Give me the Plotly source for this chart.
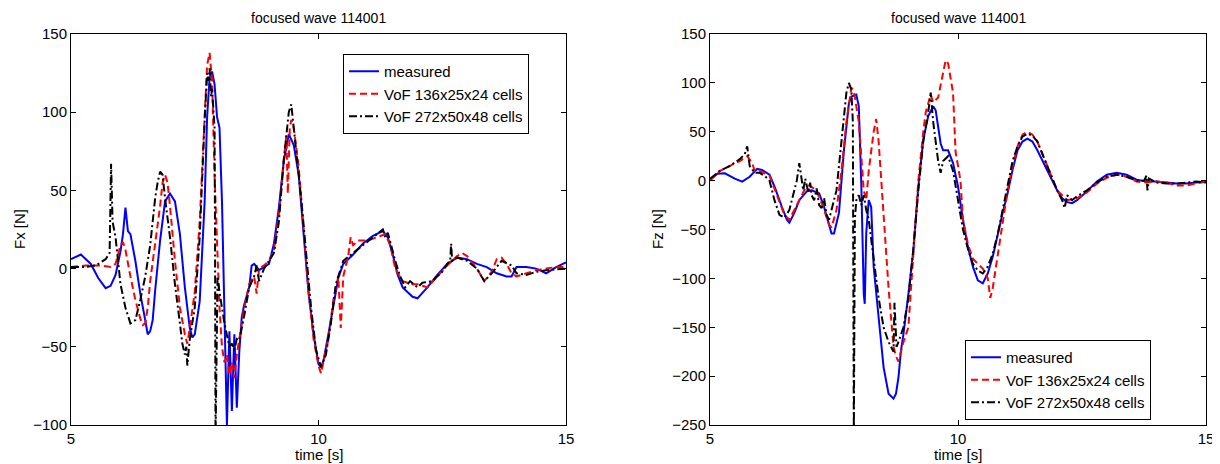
import plotly.graph_objects as go

# ---------------- Left panel: Fx ----------------
fx_meas_t = [5.0, 5.2, 5.4, 5.55, 5.7, 5.8, 5.9, 6.0, 6.05, 6.1, 6.15, 6.2, 6.3, 6.4, 6.5, 6.55, 6.6, 6.65,
             6.7, 6.8, 6.9, 7.0, 7.1, 7.2, 7.3, 7.4, 7.45, 7.5, 7.6, 7.7, 7.75, 7.8, 7.85, 7.9, 7.95, 8.0,
             8.05, 8.1, 8.15, 8.2, 8.25, 8.3, 8.35, 8.4, 8.45, 8.5, 8.6, 8.65, 8.7, 8.8, 8.9, 9.0, 9.1, 9.2,
             9.3, 9.4, 9.5, 9.6, 9.7, 9.8, 9.9, 10.0, 10.05, 10.1, 10.2, 10.3, 10.4, 10.5, 10.7, 10.9, 11.1,
             11.3, 11.4, 11.5, 11.6, 11.7, 11.8, 11.9, 12.0, 12.2, 12.4, 12.6, 12.8, 13.0, 13.2, 13.4, 13.6,
             13.8, 13.9, 14.0, 14.2, 14.4, 14.6, 14.8, 15.0]
fx_meas_y = [6, 9, 3, -6, -12.5, -11, -4, 11, 22, 39, 24, 22, 5, -16, -33, -42, -40, -33,
             -14, 18, 43, 48, 43, 22, -12, -38, -44, -42, -21, 43, 97, 122, 126, 118, 97, 90,
             43, -31, -100, -40, -91, -42, -89, -53, -31, -23, -12, 2, 3, -1, 1, 3, 16, 39,
             69, 86, 79, 60, 22, -16, -42, -61, -63, -59, -42, -25, -6, 3, 9, 16, 21,
             24, 20, 9, -4, -12, -15, -18, -19, -12, -4, 3, 7, 6, 3, 1, -3,
             -5, -5, 1, 1, 0, -3, 1, 4]

fx_voc_t = [5.0, 5.3, 5.6, 5.8, 5.9, 6.0, 6.05, 6.1, 6.2, 6.3, 6.4, 6.45, 6.5, 6.55, 6.6, 6.7, 6.8, 6.85,
            6.9, 6.95, 7.0, 7.1, 7.2, 7.3, 7.35, 7.4, 7.5, 7.6, 7.7, 7.75, 7.8, 7.85, 7.9, 7.95, 8.0, 8.05,
            8.1, 8.15, 8.2, 8.25, 8.3, 8.35, 8.4, 8.5, 8.6, 8.7, 8.75, 8.8, 8.9, 9.0, 9.1, 9.2, 9.3, 9.35,
            9.38, 9.42, 9.45, 9.5, 9.6, 9.7, 9.8, 9.9, 10.0, 10.05, 10.1, 10.2, 10.3, 10.4, 10.45, 10.5, 10.6,
            10.65, 10.7, 10.8, 11.0, 11.2, 11.35, 11.45, 11.55, 11.7, 11.9, 12.0, 12.2, 12.4, 12.6, 12.8,
            12.9, 13.0, 13.2, 13.35, 13.5, 13.6, 13.7, 13.8, 13.9, 14.0, 14.2, 14.4, 14.6, 14.8, 15.0]
fx_voc_y = [1, 2, 2, 1, 3, 15, 17, 12, -5, -20, -32, -36, -35, -25, -8, 15, 40, 55,
            60, 55, 40, 5, -25, -42, -48, -38, -15, 30, 95, 130, 138, 120, 60, 10, -25, -50,
            -60, -55, -68, -60, -70, -55, -45, -25, -10, -5, -16, 0, 2, 5, 12, 35, 70, 85,
            48, 90, 95, 90, 65, 25, -15, -45, -62, -67, -60, -45, -20, -5, -38, -5, 8,
            20, 15, 18, 18, 20, 22, 15, 0, -8, -10, -10, -12, -5, 2, 8,
            10, 8, 0, -8, -2, 6, 7, 3, -3, -5, -3, -1, 0, 1, 1]

fx_vof_t = [5.0, 5.3, 5.5, 5.7, 5.78, 5.81, 5.84, 5.9, 6.0, 6.1, 6.2, 6.3, 6.4, 6.5, 6.6, 6.7, 6.75, 6.8,
            6.85, 6.9, 7.0, 7.1, 7.2, 7.25, 7.3, 7.33, 7.35, 7.4, 7.5, 7.6, 7.7, 7.75, 7.78, 7.8, 7.83,
            7.85, 7.88, 7.9, 7.91, 7.92, 7.96, 8.0, 8.1, 8.2, 8.25, 8.3, 8.35, 8.4, 8.5, 8.6, 8.7, 8.75,
            8.8, 8.9, 9.0, 9.1, 9.2, 9.3, 9.4, 9.45, 9.5, 9.55, 9.65, 9.75, 9.85, 9.95, 10.05, 10.15, 10.25,
            10.35, 10.5, 10.7, 10.9, 11.1, 11.3, 11.35, 11.4, 11.55, 11.65, 11.75, 11.85, 12.0, 12.1, 12.3,
            12.5, 12.6, 12.66, 12.68, 12.7, 12.8, 13.0, 13.2, 13.3, 13.35, 13.5, 13.7, 13.9, 14.0, 14.2,
            14.4, 14.6, 15.0]
fx_vof_y = [1, 1, 2, 6, 10, 67, 30, 20, -10, -25, -35, -33, -20, -5, 15, 45, 55, 62,
            60, 45, 20, -10, -35, -48, -55, -50, -62, -45, -25, 20, 95, 125, 120, 128, 110,
            115, 100, 90, 20, -110, -5, -15, -35, -50, -48, -52, -45, -46, -30, -12, -5, 2,
            -8, 0, 5, 10, 30, 70, 100, 105, 90, 75, 45, 10, -25, -52, -63, -55, -35,
            -10, 5, 10, 15, 20, 25, 20, 23, 5, -5, -12, -8, -12, -9, -8,
            -2, 3, 5, 16, 5, 7, 5, 0, -5, -8, -3, 5, 2, -3, -4,
            -2, -1, 0]

# ---------------- Right panel: Fz ----------------
fz_meas_t = [5.0, 5.15, 5.3, 5.5, 5.65, 5.8, 5.95, 6.05, 6.2, 6.3, 6.45, 6.55, 6.6, 6.7, 6.8, 6.95, 7.05,
             7.2, 7.3, 7.4, 7.45, 7.5, 7.6, 7.7, 7.8, 7.85, 7.95, 8.0, 8.05, 8.1, 8.12, 8.15, 8.2, 8.25, 8.3,
             8.4, 8.5, 8.6, 8.7, 8.75, 8.8, 8.85, 8.9, 9.0, 9.1, 9.2, 9.3, 9.4, 9.5, 9.55, 9.6, 9.65, 9.7,
             9.8, 9.9, 10.0, 10.1, 10.2, 10.3, 10.4, 10.5, 10.6, 10.7, 10.8, 10.9, 11.0, 11.1, 11.2, 11.3,
             11.4, 11.5, 11.6, 11.8, 12.0, 12.1, 12.2, 12.3, 12.4, 12.6, 12.8, 13.0, 13.2, 13.4, 13.6, 13.8,
             14.0, 14.2, 14.4, 14.6, 14.8, 15.0]
fz_meas_y = [1, 7, 7.5, 2, -1, 4, 12, 11, 6, -6, -27, -40, -43, -33, -20, -11, -10,
             -13, -27, -47, -54, -54, -33, 31, 79, 86, 88, 76, -3, -116, -126, -54, -20, -27, -88,
             -140, -191, -218, -223, -218, -201, -174, -157, -116, -71, -6, 42, 66, 76, 72, 55, 38, 31,
             31, 18, -6, -40, -68, -88, -102, -105, -95, -78, -54, -33, -13, 11, 31, 40,
             43, 40, 31, 11, -10, -18, -22, -23, -20, -11, -1, 6, 8, 6, 1, -1,
             -1, -2, -3, -3, -2, -1]

fz_voc_t = [5.0, 5.2, 5.4, 5.6, 5.75, 5.85, 5.9, 6.0, 6.2, 6.35, 6.5, 6.6, 6.7, 6.8, 6.9, 7.0, 7.15, 7.3,
            7.4, 7.45, 7.55, 7.65, 7.75, 7.85, 7.9, 8.0, 8.1, 8.15, 8.2, 8.3, 8.35, 8.4, 8.5, 8.6, 8.7,
            8.75, 8.8, 8.85, 8.9, 9.0, 9.1, 9.2, 9.3, 9.35, 9.45, 9.5, 9.6, 9.7, 9.75, 9.8, 9.9, 9.95,
            10.05, 10.1, 10.2, 10.3, 10.4, 10.5, 10.6, 10.65, 10.7, 10.8, 10.9, 11.0, 11.1, 11.2, 11.3,
            11.4, 11.5, 11.6, 11.8, 12.0, 12.2, 12.4, 12.6, 12.8, 13.0, 13.2, 13.4, 13.6, 13.8, 14.0,
            14.2, 14.4, 14.6, 14.8, 15.0]
fz_voc_y = [0, 10, 15, 20, 25, 18, 10, 10, 5, -15, -35, -40, -30, -20, -10, -5, -10, -30,
            -45, -48, -30, 10, 60, 95, 92, 60, -10, -20, 10, 50, 63, 40, -40, -110, -170,
            -180, -185, -175, -165, -150, -80, 0, 50, 70, 88, 80, 85, 110, 123, 120, 90, 30,
            0, -40, -65, -80, -85, -90, -100, -120, -110, -75, -45, -10, 15, 35, 47,
            50, 47, 40, 15, -10, -20, -18, -12, -3, 3, 6, 4, -1, -2, -1,
            -2, -5, -5, -3, -1]

fz_vof_t = [5.0, 5.2, 5.4, 5.6, 5.7, 5.75, 5.8, 5.9, 6.0, 6.1, 6.2, 6.3, 6.4, 6.5, 6.6, 6.7, 6.75, 6.8,
            6.85, 6.88, 6.92, 6.95, 6.98, 7.02, 7.05, 7.1, 7.15, 7.2, 7.25, 7.3, 7.35, 7.4, 7.45, 7.55,
            7.65, 7.75, 7.8, 7.85, 7.88, 7.9, 7.92, 7.95, 8.0,
            8.05, 8.1, 8.15, 8.2, 8.3, 8.4, 8.5, 8.6, 8.7, 8.72, 8.76, 8.8, 8.9, 9.0, 9.1, 9.2, 9.3, 9.4,
            9.45, 9.5, 9.55, 9.6, 9.65, 9.7, 9.8, 9.9, 10.0, 10.1, 10.2, 10.3, 10.4, 10.5, 10.6, 10.7,
            10.8, 10.9, 11.0, 11.1, 11.2, 11.3, 11.4, 11.5, 11.6, 11.8, 12.0, 12.1, 12.15, 12.2, 12.3,
            12.4, 12.6, 12.8, 13.0, 13.2, 13.4, 13.6, 13.75, 13.8, 13.82, 13.85, 14.0, 14.2, 14.4, 14.6,
            14.8, 15.0]
fz_vof_y = [2, 10, 15, 22, 27, 35, 15, 8, 8, 5, 0, -20, -35, -38, -30, -10, 0, 18,
            0, -10, 2, -5, -12, -2, -15, -20, -8, -25, -28, -18, -35, -40, -30, -10,
            40, 90, 100, 93, 60, -260, -40, -20, -15,
            -25, -15, -30, -40, -80, -120, -150, -165, -175, -125, -170, -165, -150, -120, -70, -10, 40, 70,
            90, 60, 40, 20, 8, 20, 25, 10, -20, -50, -70, -85, -92, -95, -88, -75,
            -55, -30, -5, 20, 35, 45, 48, 46, 40, 15, -10, -20, -28, -15, -20,
            -16, -10, -2, 4, 6, 4, 0, 0, 5, -10, 2, -2, -3, -3, -2,
            -1, -2]

series_names = ["measured", "VoF 136x25x24 cells", "VoF 272x50x48 cells"]
x_ticks = [5, 10, 15]
fx_ticks = [150, 100, 50, 0, -50, -100]
fz_ticks = [150, 100, 50, 0, -50, -100, -150, -200, -250]

FONT = "Liberation Sans, Arial, sans-serif"
styles = [
    dict(color="#0000ff", width=2, dash="solid"),
    dict(color="#ff0000", width=2, dash="7px,4px"),
    dict(color="#000000", width=2, dash="8px,3px,2px,3px"),
]

fig = go.Figure()
left = [(fx_meas_t, fx_meas_y), (fx_voc_t, fx_voc_y), (fx_vof_t, fx_vof_y)]
right = [(fz_meas_t, fz_meas_y), (fz_voc_t, fz_voc_y), (fz_vof_t, fz_vof_y)]
for i, (t, y) in enumerate(left):
    fig.add_trace(go.Scatter(x=t, y=y, mode="lines", name=series_names[i], line=styles[i],
                             xaxis="x", yaxis="y", legend="legend"))
for i, (t, y) in enumerate(right):
    fig.add_trace(go.Scatter(x=t, y=y, mode="lines", name=series_names[i], line=styles[i],
                             xaxis="x2", yaxis="y2", legend="legend2"))

W, H = 1220, 464
OFF = 8  # page body margin offset


def px(x):
    return (x - OFF) / W


def py(y):
    return 1 - (y - OFF) / H


ydom = [py(425), py(34)]
axis_common = dict(showline=True, linecolor="black", linewidth=1, mirror="ticks",
                   ticks="inside", ticklen=5, tickcolor="black", showgrid=False, zeroline=False,
                   automargin=False, tickfont=dict(family=FONT, size=15, color="black"))
fig.update_layout(
    width=W, height=H, margin=dict(l=0, r=0, t=0, b=0, pad=0, autoexpand=False),
    paper_bgcolor="white", plot_bgcolor="white",
    font=dict(family=FONT, size=15, color="black"),
    xaxis=dict(domain=[px(71), px(566)], range=[5, 15], tickvals=x_ticks, anchor="y", **axis_common),
    yaxis=dict(domain=ydom, range=[-100, 150], tickvals=fx_ticks, anchor="x", **axis_common),
    xaxis2=dict(domain=[px(710), px(1206)], range=[5, 15], tickvals=x_ticks, anchor="y2", **axis_common),
    yaxis2=dict(domain=ydom, range=[-250, 150], tickvals=fz_ticks, anchor="x2", **axis_common),
    legend=dict(x=px(343), y=py(54), xanchor="left", yanchor="top", bgcolor="white",
                bordercolor="black", borderwidth=1, itemwidth=30, font=dict(family=FONT, size=15),
                tracegroupgap=0),
    legend2=dict(x=px(965), y=py(340), xanchor="left", yanchor="top", bgcolor="white",
                 bordercolor="black", borderwidth=1, itemwidth=30, font=dict(family=FONT, size=15),
                 tracegroupgap=0),
    showlegend=True,
)

annots = [
    dict(text="focused wave 114001", x=px((71 + 566) / 2), y=py(18), size=14),
    dict(text="focused wave 114001", x=px((710 + 1206) / 2), y=py(18), size=14),
    dict(text="time [s]", x=px((71 + 566) / 2), y=py(454), size=15),
    dict(text="time [s]", x=px((710 + 1206) / 2), y=py(454), size=15),
]
for a in annots:
    fig.add_annotation(xref="paper", yref="paper", showarrow=False, xanchor="center", yanchor="middle",
                       text=a["text"], x=a["x"], y=a["y"],
                       font=dict(family=FONT, size=a["size"], color="black"))
fig.add_annotation(text="Fx [N]", xref="paper", yref="paper", x=px(20), y=py(229), textangle=-90,
                   showarrow=False, xanchor="center", yanchor="middle", font=dict(family=FONT, size=15))
fig.add_annotation(text="Fz [N]", xref="paper", yref="paper", x=px(658), y=py(229), textangle=-90,
                   showarrow=False, xanchor="center", yanchor="middle", font=dict(family=FONT, size=15))

fig.write_html("out.html")
